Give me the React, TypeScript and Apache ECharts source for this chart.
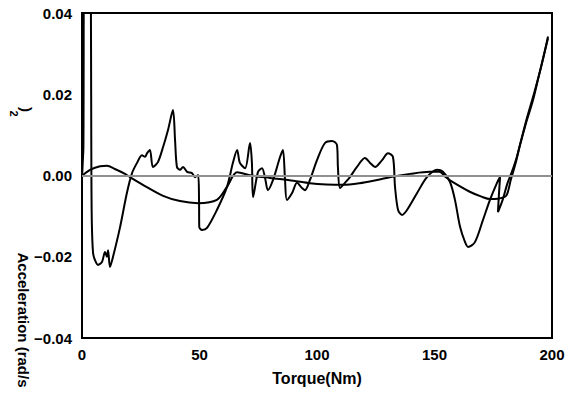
import React, { useEffect, useRef } from "react";
import * as echarts from "echarts";

const xTicks = ["0", "50", "100", "150", "200"];
const yTicks = ["\u22120.04", "\u22120.02", "0.00", "0.02", "0.04"];
const xName = "Torque(Nm)";
const yName = "Acceleration (rad/s";
const yNameTail = ")";
const yNameSup = "2";

// smooth (slow) curve: [torque, acceleration]
const smoothCurve: number[][] = [
  [0, -0.0001], [3.4, 0.0014], [7.7, 0.0023], [10.6, 0.0024], [14, 0.0016],
  [18.3, 0.0004], [20.4, -0.0004], [26.8, -0.0026], [34.5, -0.005],
  [41.7, -0.0063], [49.4, -0.0068], [57.4, -0.006], [61.7, -0.0028],
  [66, 0.0008], [72, 0.0], [80, -0.0006], [90, -0.0013], [97, -0.0019],
  [104, -0.0022], [111, -0.0023], [118, -0.0019], [125.5, -0.0011],
  [132, -0.0003], [139.6, 0.0004], [148, 0.0009], [152, 0.0009],
  [155, -0.0005], [158, -0.0017], [165, -0.004], [170, -0.0052],
  [173.6, -0.0058], [177, -0.0057], [180.5, -0.005], [182.5, -0.001],
  [184.5, 0.003], [186.4, 0.0075], [189, 0.013], [191.9, 0.0185],
  [195, 0.026], [198.3, 0.0338],
];

// oscillating curve: [torque, acceleration]
const wigglyCurve: number[][] = [
  [0, -0.001], [0.3, 0.003], [0.6, 0.007], [1.0, 0.06], [3.6, 0.06],
  [3.8, 0.04], [3.9, 0.02], [4.0, 0.0], [4.2, -0.012], [4.7, -0.019],
  [5.5, -0.0208], [6.8, -0.022], [8.5, -0.0213], [9.8, -0.0188],
  [10.6, -0.02], [11.1, -0.0184], [11.9, -0.0225], [13.2, -0.02],
  [16.2, -0.0127], [19.1, -0.0043], [21.3, 0.0006], [23.4, 0.0031],
  [25.5, 0.005], [26.8, 0.0046], [27.7, 0.0055], [28.9, 0.0063],
  [30.2, 0.0021], [32.3, 0.0033], [34.5, 0.007], [36.6, 0.0112],
  [38.7, 0.0161], [39.6, 0.0087], [40.4, 0.0021], [41.7, 0.0014],
  [43, 0.0021], [44.7, 0.0009], [46.8, 0.0006], [48.1, -0.0004],
  [49.4, 0.0001], [49.8, -0.006], [49.9, -0.0127], [51.1, -0.0134],
  [53.2, -0.0129], [57.4, -0.0085], [61.7, -0.0028], [64.3, 0.0033],
  [66, 0.0063], [67.2, 0.0031], [69.4, 0.0018], [71.5, 0.008],
  [72.3, 0.0031], [72.8, -0.0053], [74.9, 0.0009], [76.6, 0.0018],
  [77.9, -0.0006], [79.1, -0.0036], [81.3, -0.0011], [84.3, 0.0046],
  [85.5, 0.0063], [86.4, -0.0011], [87.2, -0.006], [89.4, -0.0043],
  [91.5, -0.0018], [93.6, -0.0031], [94.9, -0.0036], [97, -0.0011],
  [100, 0.0038], [103.4, 0.008], [106.4, 0.0085], [108.5, 0.0075],
  [108.9, 0.0021], [109.8, -0.0031], [111.9, -0.0018], [114, -0.0004],
  [117, 0.0021], [120.4, 0.0043], [122.6, 0.0031], [124.7, 0.0021],
  [127.7, 0.0038], [130.2, 0.0055], [132.3, 0.0046], [133.2, -0.0028],
  [134.5, -0.0085], [136.2, -0.0097], [138.3, -0.0085], [142.6, -0.0043],
  [146.8, -0.0004], [151.1, 0.0014], [153.6, 0.0009], [156.6, -0.0016],
  [158.7, -0.006], [160.9, -0.0127], [163, -0.0164], [164.3, -0.0176],
  [167.2, -0.0164], [170.6, -0.011], [173.6, -0.006], [176.6, -0.0018],
  [177.9, -0.0004], [177.4, -0.0048], [177, -0.009], [179, -0.006],
  [181, -0.002], [183, 0.001], [185, 0.0045], [187, 0.009],
  [189.5, 0.0145], [192.5, 0.0205], [195.5, 0.027], [198.3, 0.0342],
];

const FONT = "'Liberation Sans', Arial, sans-serif";

export default function App() {
  const ref = useRef<HTMLDivElement>(null);
  useEffect(() => {
    if (!ref.current) return;
    const chart = echarts.init(ref.current, undefined, { renderer: "svg" });
    const lineStyle = { color: "#000", width: 2 };
    chart.setOption({
      animation: false,
      backgroundColor: "#fff",
      grid: {
        left: 82, right: 25, top: 13, bottom: 62,
        show: true, borderColor: "#000", borderWidth: 2,
        backgroundColor: "transparent",
      },
      xAxis: {
        type: "value", min: 0, max: 200, interval: 50,
        axisLine: { show: true, lineStyle: { color: "#000", width: 2 } },
        axisTick: { show: false },
        splitLine: { show: false },
        axisLabel: {
          color: "#000", fontSize: 15, fontWeight: "bold", fontFamily: FONT, margin: 9,
          formatter: (v: number) => xTicks[Math.round(v / 50)] ?? "",
        },
      },
      yAxis: {
        type: "value", min: -0.04, max: 0.04, interval: 0.02,
        axisLine: { show: true, lineStyle: { color: "#000", width: 2 } },
        axisTick: { show: false },
        splitLine: { show: false },
        axisLabel: {
          color: "#000", fontSize: 15, fontWeight: "bold", fontFamily: FONT, margin: 10,
          formatter: (v: number) => yTicks[Math.round((v + 0.04) / 0.02)] ?? "",
        },
      },
      graphic: [
        {
          type: "text", x: 317, y: 378,
          style: { text: xName, fill: "#000", font: `bold 16px ${FONT}`, textAlign: "center", textVerticalAlign: "middle" },
        },
        {
          type: "text", x: 23, y: 320, rotation: -Math.PI / 2,
          style: { text: yName, fill: "#000", font: `bold 15px ${FONT}`, textAlign: "center", textVerticalAlign: "middle" },
        },
        {
          type: "text", x: 26, y: 109.5, rotation: -Math.PI / 2,
          style: { text: yNameTail, fill: "#000", font: `bold 15px ${FONT}`, textAlign: "center", textVerticalAlign: "middle" },
        },
        {
          type: "text", x: 14, y: 113.5, rotation: -Math.PI / 2,
          style: { text: yNameSup, fill: "#000", font: `bold 11px ${FONT}`, textAlign: "center", textVerticalAlign: "middle" },
        },
      ],
      series: [
        {
          type: "line", data: smoothCurve, showSymbol: false, smooth: 0.3,
          lineStyle, z: 3,
          markLine: {
            silent: true, symbol: "none", label: { show: false },
            lineStyle: { color: "#c0c0c0", width: 1.5, type: "solid" },
            data: [{ yAxis: 0 }],
          },
        },
        {
          type: "line", data: wigglyCurve, showSymbol: false, smooth: 0.3,
          lineStyle, z: 3,
        },
      ],
    });
    return () => chart.dispose();
  }, []);
  return (
    <div
      ref={ref}
      style={{ position: "absolute", left: 0, top: 0, width: 577, height: 400 }}
    />
  );
}
